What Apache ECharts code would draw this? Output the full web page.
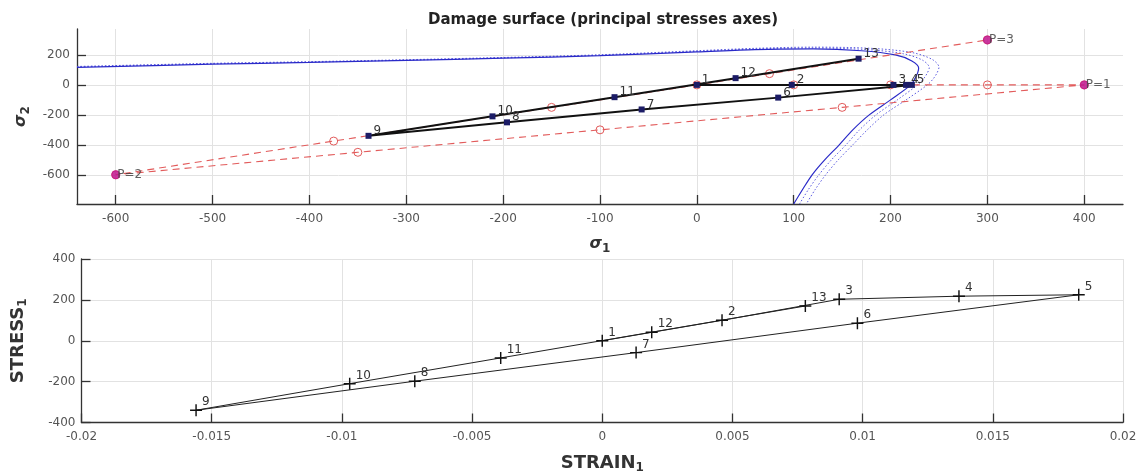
<!DOCTYPE html>
<html>
<head>
<meta charset="utf-8">
<script src="https://cdn.jsdelivr.net/npm/echarts@6/dist/echarts.min.js"></script>
<style>
html,body{margin:0;padding:0;background:#fff;}
#c{width:1146px;height:475px;}
</style>
</head>
<body>
<div id="c"></div>
<script>
// ---------- DATA ----------
// Top chart: stress path in principal stress axes (points 1..13)
const pathLabels = ['1','2','3','4','5','6','7','8','9','10','11','12','13'];
const sigma1 = [0, 98, 203, 216, 222, 84, -57, -196, -339, -211, -85, 40, 167];
const sigma2 = [0, 0, 0, 0, 0, -85, -164, -250, -340, -210, -82, 45, 175];

// Prescribed load path (red dashed) with circles
const loadX = [0, 100, 200, 300, 400, 150, -100, -350, -600, -375, -150, 75, 300];
const loadY = [0, 0, 0, 0, 0, -150, -300, -450, -600, -375, -150, 75, 300];
// Load-path end points
const pNames = ['P=1', 'P=2', 'P=3'];
const pX = [400, -600, 300];
const pY = [0, -600, 300];

// Damage surface (solid) and two expanded surfaces (dotted)
const surfX  = [-640, -500, -400, -300, -200, -100, 0, 60, 120, 170, 205, 222, 229, 228, 225, 221, 200, 178, 161, 147, 132, 119, 109, 100];
const surfY  = [117, 138, 150, 163, 178, 195, 220, 236, 240, 228, 200, 160, 113, 80, 40, 0, -100, -200, -300, -400, -500, -600, -700, -795];
const surf2X = [-640, -500, -400, -300, -200, -100, 0, 60, 120, 175, 213, 233, 240, 238, 234, 228, 207, 185, 168, 154, 139, 126, 115, 106];
const surf2Y = [120, 141, 152, 165, 180, 198, 224, 240, 246, 236, 208, 165, 115, 80, 40, 0, -100, -200, -300, -400, -500, -600, -700, -795];
const surf3X = [-640, -500, -400, -300, -200, -100, 0, 60, 120, 180, 222, 243, 250, 248, 244, 238, 216, 193, 176, 161, 146, 133, 122, 113];
const surf3Y = [123, 144, 155, 168, 183, 201, 228, 244, 252, 244, 216, 170, 118, 80, 40, 0, -100, -200, -300, -400, -500, -600, -700, -795];

const topXTicks = [-600, -500, -400, -300, -200, -100, 0, 100, 200, 300, 400];
const topYTicks = [-600, -400, -200, 0, 200];

// Bottom chart: STRESS_1 vs STRAIN_1
const strain1 = [0, 0.0046, 0.0091, 0.0137, 0.0183, 0.0098, 0.0013, -0.0072, -0.0156, -0.0097, -0.0039, 0.0019, 0.0078];
const stress1 = [0, 100, 203, 218, 225, 86, -58, -198, -340, -210, -84, 42, 170];
const botXTicks = [-0.02, -0.015, -0.01, -0.005, 0, 0.005, 0.01, 0.015, 0.02];
const botYTicks = [-400, -200, 0, 200, 400];

// ---------- CHART ----------
const zip = (a, b) => a.map((v, i) => [v, b[i]]);
const FONT = 'DejaVu Sans';
const axisLineStyle = { color: '#333', width: 1.3 };
const gridLine = { show: true, lineStyle: { color: '#e2e2e2', width: 1 } };
const tickLabel = { color: '#555', fontSize: 12, fontFamily: FONT };
const plus = 'path://M4.4,0 H5.6 V4.4 H10 V5.6 H5.6 V10 H4.4 V5.6 H0 V4.4 H4.4 Z';

const chart = echarts.init(document.getElementById('c'), null, { renderer: 'canvas' });

const nameRich = {
  s: { fontSize: 16, fontWeight: 'bold', fontStyle: 'italic', color: '#333', fontFamily: FONT, lineHeight: 20 },
  t: { fontSize: 18, fontWeight: 'bold', color: '#333', fontFamily: FONT, lineHeight: 22 },
  sub: { fontSize: 12, fontWeight: 'bold', color: '#333', fontFamily: FONT, padding: [9, 0, 0, 0], lineHeight: 20 }
};

const option = {
  animation: false,
  backgroundColor: '#fff',
  textStyle: { fontFamily: FONT },
  title: {
    text: 'Damage surface (principal stresses axes)',
    left: 598, top: 8, textAlign: 'center',
    textStyle: { fontSize: 15, fontWeight: 'bold', color: '#222', fontFamily: FONT }
  },
  grid: [
    { left: 77, right: 23, top: 29, height: 175 },
    { left: 77, right: 23, top: 259, height: 165 }
  ],
  xAxis: [
    {
      gridIndex: 0, type: 'value', min: -640, max: 440,
      axisLine: { onZero: false, lineStyle: axisLineStyle },
      axisTick: { inside: true, length: 9, lineStyle: axisLineStyle, customValues: topXTicks },
      axisLabel: Object.assign({ margin: 9, customValues: topXTicks }, tickLabel),
      splitLine: gridLine,
      name: '{s|σ}{sub|1}', nameLocation: 'middle', nameGap: 30,
      nameTextStyle: { rich: nameRich }
    },
    {
      gridIndex: 1, type: 'value', min: -0.02, max: 0.02,
      axisLine: { onZero: false, lineStyle: axisLineStyle },
      axisTick: { inside: true, length: 9, lineStyle: axisLineStyle, customValues: botXTicks },
      axisLabel: Object.assign({ margin: 8, customValues: botXTicks, formatter: v => String(+(+v).toFixed(4)) }, tickLabel),
      splitLine: gridLine,
      name: '{t|STRAIN}{sub|1}', nameLocation: 'middle', nameGap: 30,
      nameTextStyle: { rich: nameRich }
    }
  ],
  yAxis: [
    {
      gridIndex: 0, type: 'value', min: -795, max: 373,
      axisLine: { onZero: false, lineStyle: axisLineStyle },
      axisTick: { inside: true, length: 9, lineStyle: axisLineStyle, customValues: topYTicks },
      axisLabel: Object.assign({ margin: 7, customValues: topYTicks }, tickLabel),
      splitLine: gridLine,
      name: '{s|σ}{sub|2}', nameLocation: 'middle', nameGap: 46, nameRotate: 90,
      nameTextStyle: { rich: nameRich }
    },
    {
      gridIndex: 1, type: 'value', min: -400, max: 400,
      axisLine: { onZero: false, lineStyle: axisLineStyle },
      axisTick: { inside: true, length: 9, lineStyle: axisLineStyle, customValues: botYTicks },
      axisLabel: Object.assign({ margin: 6, customValues: botYTicks }, tickLabel),
      splitLine: gridLine,
      name: '{t|STRESS}{sub|1}', nameLocation: 'middle', nameGap: 52, nameRotate: 90,
      nameTextStyle: { rich: nameRich }
    }
  ],
  series: [
    // damage surfaces
    { type: 'line', xAxisIndex: 0, yAxisIndex: 0, data: zip(surf3X, surf3Y), smooth: 0.3, showSymbol: false,
      lineStyle: { color: '#5b5be0', width: 1, type: [1.5, 2] }, z: 2, silent: true },
    { type: 'line', xAxisIndex: 0, yAxisIndex: 0, data: zip(surf2X, surf2Y), smooth: 0.3, showSymbol: false,
      lineStyle: { color: '#5b5be0', width: 1, type: [1.5, 2] }, z: 2, silent: true },
    { type: 'line', xAxisIndex: 0, yAxisIndex: 0, data: zip(surfX, surfY), smooth: 0.3, showSymbol: false,
      lineStyle: { color: '#2a2ac8', width: 1.2 }, z: 3, silent: true },
    // load path
    { type: 'line', xAxisIndex: 0, yAxisIndex: 0, data: zip(loadX, loadY), symbol: 'circle', symbolSize: 8,
      itemStyle: { color: 'rgba(255,255,255,0)', borderColor: '#e25b5b', borderWidth: 1 },
      lineStyle: { color: '#e25b5b', width: 1.1, type: [7, 5] }, z: 4 },
    // black stress path
    { type: 'line', xAxisIndex: 0, yAxisIndex: 0, data: zip(sigma1, sigma2), symbol: 'rect', symbolSize: 6,
      itemStyle: { color: '#1c1c66' }, lineStyle: { color: '#111', width: 2 }, z: 5,
      label: { show: true, position: 'right', offset: [-3, -5], fontSize: 12, color: '#333', fontFamily: FONT,
        formatter: p => pathLabels[p.dataIndex] } },
    // P markers
    { type: 'scatter', xAxisIndex: 0, yAxisIndex: 0, data: zip(pX, pY), symbol: 'circle', symbolSize: 9,
      itemStyle: { color: '#c0148c', opacity: 0.85 }, z: 6,
      label: { show: true, position: 'right', distance: -3, fontSize: 12, color: '#444', fontFamily: FONT,
        formatter: p => pNames[p.dataIndex] } },
    // bottom chart
    { type: 'line', xAxisIndex: 1, yAxisIndex: 1, data: zip(strain1, stress1), symbol: plus, symbolSize: 12,
      itemStyle: { color: '#111' }, lineStyle: { color: '#222', width: 1 }, z: 5,
      label: { show: true, position: 'right', offset: [-5, -8], fontSize: 12, color: '#333', fontFamily: FONT,
        formatter: p => pathLabels[p.dataIndex] } }
  ]
};
chart.setOption(option);
</script>
</body>
</html>
